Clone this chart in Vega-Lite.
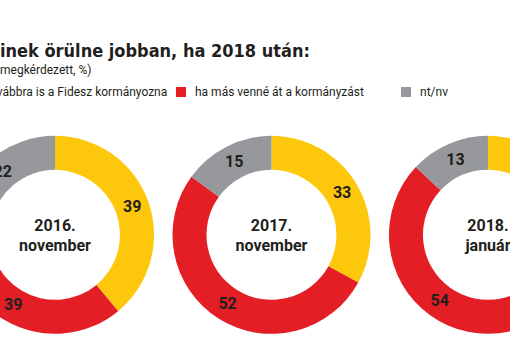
{
  "$schema": "https://vega.github.io/schema/vega-lite/v6.json",
  "width": 510,
  "height": 350,
  "autosize": "none",
  "padding": 0,
  "background": "#ffffff",
  "config": {"view": {"stroke": null}, "font": "Roboto"},
  "title": {
    "text": "inek örülne jobban, ha 2018 után:",
    "subtitle": "megkérdezett, %)",
    "anchor": "start",
    "frame": "group",
    "orient": "top",
    "offset": 0,
    "dx": 0,
    "dy": 76,
    "font": "'DejaVu Sans Condensed', Inter",
    "fontSize": 18,
    "fontWeight": "bold",
    "color": "#231f20",
    "subtitleFont": "Roboto",
    "subtitleFontSize": 12,
    "subtitleColor": "#231f20",
    "subtitlePadding": 4
  },
  "data": {
    "values": [
      {"idoszak": "2016. november", "valasz": "ha továbbra is a Fidesz kormányozna", "ertek": 39, "sorrend": 1},
      {"idoszak": "2016. november", "valasz": "ha más venné át a kormányzást", "ertek": 39, "sorrend": 2},
      {"idoszak": "2016. november", "valasz": "nt/nv", "ertek": 22, "sorrend": 3},
      {"idoszak": "2017. november", "valasz": "ha továbbra is a Fidesz kormányozna", "ertek": 33, "sorrend": 1},
      {"idoszak": "2017. november", "valasz": "ha más venné át a kormányzást", "ertek": 52, "sorrend": 2},
      {"idoszak": "2017. november", "valasz": "nt/nv", "ertek": 15, "sorrend": 3},
      {"idoszak": "2018. január", "valasz": "ha továbbra is a Fidesz kormányozna", "ertek": 33, "sorrend": 1},
      {"idoszak": "2018. január", "valasz": "ha más venné át a kormányzást", "ertek": 54, "sorrend": 2},
      {"idoszak": "2018. január", "valasz": "nt/nv", "ertek": 13, "sorrend": 3}
    ]
  },
  "encoding": {
    "x": {
      "field": "idoszak",
      "type": "nominal",
      "sort": ["2016. november", "2017. november", "2018. január"],
      "scale": {"type": "point", "padding": 0.178, "align": 0.714},
      "axis": null
    },
    "y": {
      "datum": "kör",
      "type": "nominal",
      "scale": {"type": "point", "align": 0.671},
      "axis": null
    }
  },
  "layer": [
    {
      "transform": [{"filter": {"field": "idoszak", "equal": "2016. november"}}],
      "layer": [
        {
          "mark": {"type": "arc", "innerRadius": 65, "outerRadius": 99},
          "encoding": {
            "theta": {"field": "ertek", "type": "quantitative", "stack": true, "scale": {"domain": [0, 100]}},
            "color": {
              "field": "valasz",
              "type": "nominal",
              "scale": {
                "domain": ["ha továbbra is a Fidesz kormányozna", "ha más venné át a kormányzást", "nt/nv"],
                "range": ["#fdc70c", "#e31e25", "#97989b"]
              },
              "legend": {
                "orient": "none",
                "direction": "horizontal",
                "legendX": -50,
                "legendY": 86,
                "title": null,
                "symbolType": "square",
                "symbolSize": 100,
                "symbolStrokeWidth": 0,
                "symbolOpacity": 1,
                "labelFont": "Roboto",
                "labelFontSize": 12,
                "labelColor": "#231f20",
                "labelOffset": 8,
                "labelLimit": 0,
                "columnPadding": 7,
                "gridAlign": "all"
              }
            },
            "order": {"field": "sorrend", "type": "quantitative"}
          }
        },
        {
          "mark": {"type": "text", "radius": 82, "font": "Roboto", "fontSize": 16, "fontWeight": "bold", "color": "#231f20"},
          "encoding": {
            "theta": {"field": "ertek", "type": "quantitative", "stack": true, "scale": {"domain": [0, 100]}},
            "detail": {"field": "valasz", "type": "nominal"},
            "order": {"field": "sorrend", "type": "quantitative"},
            "text": {"field": "ertek", "type": "quantitative"}
          }
        }
      ]
    },
    {
      "transform": [{"filter": {"field": "idoszak", "equal": "2017. november"}}],
      "layer": [
        {
          "mark": {"type": "arc", "innerRadius": 65, "outerRadius": 99},
          "encoding": {
            "theta": {"field": "ertek", "type": "quantitative", "stack": true, "scale": {"domain": [0, 100]}},
            "color": {"field": "valasz", "type": "nominal"},
            "order": {"field": "sorrend", "type": "quantitative"}
          }
        },
        {
          "mark": {"type": "text", "radius": 82, "font": "Roboto", "fontSize": 16, "fontWeight": "bold", "color": "#231f20"},
          "encoding": {
            "theta": {"field": "ertek", "type": "quantitative", "stack": true, "scale": {"domain": [0, 100]}},
            "detail": {"field": "valasz", "type": "nominal"},
            "order": {"field": "sorrend", "type": "quantitative"},
            "text": {"field": "ertek", "type": "quantitative"}
          }
        }
      ]
    },
    {
      "transform": [{"filter": {"field": "idoszak", "equal": "2018. január"}}],
      "layer": [
        {
          "mark": {"type": "arc", "innerRadius": 65, "outerRadius": 99},
          "encoding": {
            "theta": {"field": "ertek", "type": "quantitative", "stack": true, "scale": {"domain": [0, 100]}},
            "color": {"field": "valasz", "type": "nominal"},
            "order": {"field": "sorrend", "type": "quantitative"}
          }
        },
        {
          "mark": {"type": "text", "radius": 82, "font": "Roboto", "fontSize": 16, "fontWeight": "bold", "color": "#231f20"},
          "encoding": {
            "theta": {"field": "ertek", "type": "quantitative", "stack": true, "scale": {"domain": [0, 100]}},
            "detail": {"field": "valasz", "type": "nominal"},
            "order": {"field": "sorrend", "type": "quantitative"},
            "text": {"field": "ertek", "type": "quantitative"}
          }
        }
      ]
    },
    {
      "transform": [{"filter": {"field": "sorrend", "equal": 1}}],
      "mark": {"type": "text", "font": "Roboto", "fontSize": 16, "fontWeight": "bold", "color": "#231f20", "lineBreak": " ", "lineHeight": 20, "dy": -9},
      "encoding": {"text": {"field": "idoszak", "type": "nominal"}}
    }
  ]
}
